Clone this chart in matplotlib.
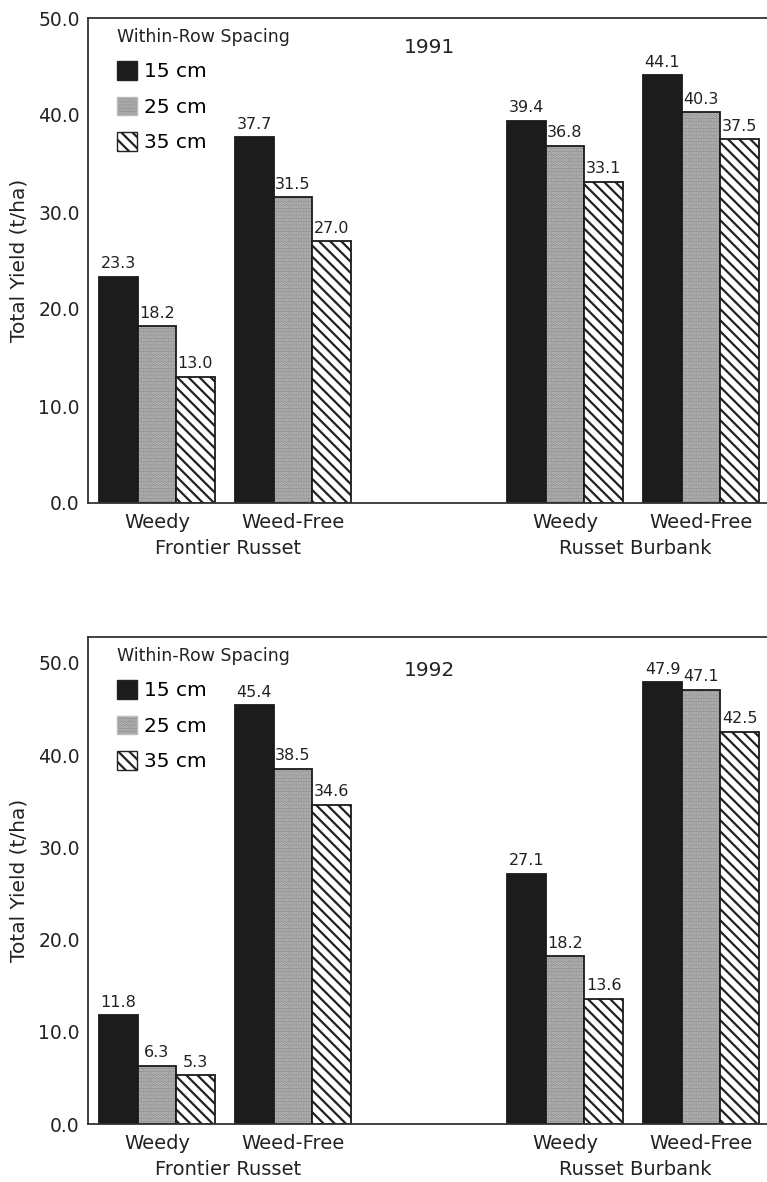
import numpy as np
import matplotlib
matplotlib.use("Agg")
import matplotlib.pyplot as plt
from matplotlib.patches import Patch
from matplotlib.transforms import blended_transform_factory

# data
spacings = ["15 cm", "25 cm", "35 cm"]
treatments = ["Weedy", "Weed-Free", "Weedy", "Weed-Free"]
varieties = ["Frontier Russet", "Russet Burbank"]
years = ["1991", "1992"]

yield_1991 = {
    "15 cm": [23.3, 37.7, 39.4, 44.1],
    "25 cm": [18.2, 31.5, 36.8, 40.3],
    "35 cm": [13.0, 27.0, 33.1, 37.5],
}
yield_1992 = {
    "15 cm": [11.8, 45.4, 27.1, 47.9],
    "25 cm": [6.3, 38.5, 18.2, 47.1],
    "35 cm": [5.3, 34.6, 13.6, 42.5],
}
yield_ticks = [0, 10, 20, 30, 40, 50]

plt.rcParams["font.family"] = ["DejaVu Sans"]
plt.rcParams["hatch.linewidth"] = 1.6

styles = {
    "15 cm": dict(facecolor="#1c1c1c", hatch=None, hatchcolor="#1c1c1c"),
    "25 cm": dict(facecolor="#8f8f8f", hatch=".....", hatchcolor="#bcbcbc"),
    "35 cm": dict(facecolor="white", hatch="\\\\\\", hatchcolor="#222222"),
}

W, H = 767, 1182
fig = plt.figure(figsize=(W / 100, H / 100), dpi=100)

x = np.array([0, 1, 3, 4])
width = 0.283
offsets = [-width, 0, width]


def draw_panel(ax, data, year, ytop, year_y):
    for off, sp in zip(offsets, spacings):
        st = styles[sp]
        # fill + hatch, then plain outline
        ax.bar(x + off, data[sp], width, color=st["facecolor"], hatch=st["hatch"],
               edgecolor=st["hatchcolor"], linewidth=0)
        ax.bar(x + off, data[sp], width, fill=False, edgecolor="#1a1a1a",
               linewidth=1.3)
        for xi, v in zip(x + off, data[sp]):
            ax.annotate(f"{v:.1f}", (xi, v), xytext=(0, 4), textcoords="offset points",
                        ha="center", va="bottom", fontsize=11.5, color="#222")

    ax.set_xlim(-0.507, 4.485)
    ax.set_ylim(0, ytop)
    ax.set_yticks(yield_ticks)
    ax.set_yticklabels([f"{t:.1f}" for t in yield_ticks], fontsize=13.5, color="#222")
    ax.set_xticks(x)
    ax.set_xticklabels(treatments, fontsize=14, color="#222")
    ax.tick_params(length=0, pad=6)
    ax.tick_params(axis="x", pad=7)
    ax.spines["right"].set_visible(False)
    for s in ["top", "left", "bottom"]:
        ax.spines[s].set_linewidth(1.3)
        ax.spines[s].set_color("#333")
    ax.set_ylabel("Total Yield (t/ha)", fontsize=14.5, color="#222", labelpad=7)

    tr = blended_transform_factory(ax.transData, ax.transAxes)
    ax.text(0.52, -0.093, varieties[0], transform=tr, ha="center", va="center",
            fontsize=14, color="#222")
    ax.text(3.52, -0.093, varieties[1], transform=tr, ha="center", va="center",
            fontsize=14, color="#222")
    ax.text(2.0, year_y, year, transform=tr, ha="center", va="center",
            fontsize=14.5, color="#222")

    handles = []
    for sp in spacings:
        st = styles[sp]
        handles.append(Patch(facecolor=st["facecolor"], hatch=st["hatch"],
                             edgecolor=st["hatchcolor"] if sp == "25 cm" else "#222"))
    leg = ax.legend(handles, spacings, title="Within-Row Spacing", loc="upper left",
                    bbox_to_anchor=(0.043, 0.98), frameon=False, fontsize=14.5,
                    title_fontsize=12.5, handlelength=1.0, handleheight=1.05,
                    handletextpad=0.35, labelspacing=0.76, borderpad=0, borderaxespad=0)
    leg._legend_box.align = "left"
    leg.get_title().set_color("#222")


ax1 = fig.add_axes([88 / W, (H - 503) / H, (W - 88) / W, 485 / H])
draw_panel(ax1, yield_1991, years[0], 50, 0.94)

ax2 = fig.add_axes([88 / W, (H - 1124) / H, (W - 88) / W, 487 / H])
draw_panel(ax2, yield_1992, years[1], 52.8, 0.932)

fig.savefig("out.png", dpi=100)
